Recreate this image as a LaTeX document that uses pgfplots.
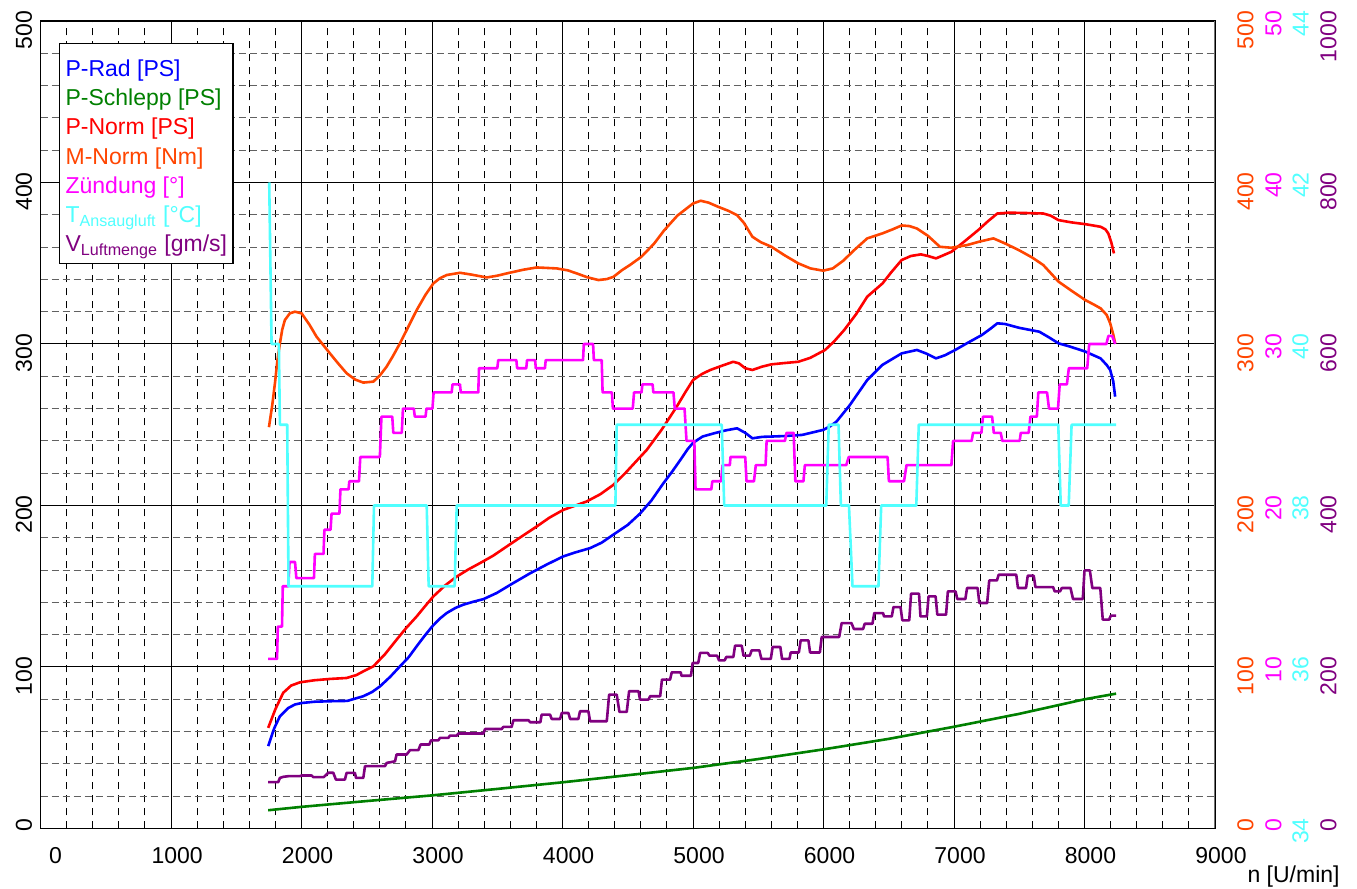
\documentclass[border=0pt]{standalone}
\usepackage{fontspec}
\setmainfont{Liberation Sans}
\usepackage{pgfplots}
\pgfplotsset{compat=1.18}
\usepackage{pgfplotstable}

\definecolor{cprad}{RGB}{0,0,255}
\definecolor{cschlepp}{RGB}{0,128,0}
\definecolor{cpnorm}{RGB}{255,0,0}
\definecolor{cmnorm}{RGB}{255,69,0}
\definecolor{czund}{RGB}{255,0,255}
\definecolor{ctemp}{RGB}{80,255,255}
\definecolor{cluft}{RGB}{128,0,128}

\newcommand{\lblfont}{\fontsize{11.5}{13}\selectfont}

% P-Rad [PS]
\pgfplotstableread{
n v
1744 51
1790 62
1834 69.5
1898 74.6
1950 76.8
2000 77.7
2100 78.5
2217 78.8
2350 79
2473 81.9
2540 84.5
2601 88
2680 94
2754 100.4
2820 106
2882 112.8
2940 119
3000 125
3060 130
3112 133.4
3180 136.6
3240 138.6
3320 140.5
3393 142
3495 145.8
3623 152
3751 158
3880 163.5
4006 168.5
4100 171
4211 173.6
4300 177
4390 182
4500 188
4594 195
4680 203
4773 213.8
4840 221
4901 228
4960 235
5000 238.8
5073 242.7
5161 244.7
5250 246.5
5337 247.8
5400 245
5455 241.6
5530 242.5
5601 242.7
5700 243
5836 243.7
5997 246.8
6050 249
6100 252
6200 262
6335 277.7
6450 287
6599 294.2
6716 296.3
6790 294
6862 291.1
6930 293
7009 296.3
7100 300.5
7214 305.6
7280 309.5
7332 312.8
7390 312.4
7500 310
7654 307.6
7730 304
7801 300.4
7889 298.4
8006 295.3
8123 291.1
8170 287
8197 283.9
8220 277
8235 267.4
}\tabPRad

% P-Schlepp [PS]
\pgfplotstableread{
n v
1744 11.3
2000 13.4
2500 17
3000 20.5
3500 24.5
4000 28.6
4500 33
5000 37.5
5500 43
6000 49
6500 55.5
7000 63
7500 71
8000 80
8242 83.5
}\tabSchlepp

% P-Norm [PS]
\pgfplotstableread{
n v
1744 62.3
1800 74
1859 84
1920 88.5
1987 90.5
2100 91.8
2217 92.6
2345 93.2
2420 95
2473 97.3
2550 100.4
2640 108
2728 116.9
2800 124
2882 131.3
2950 138
3010 143.7
3100 150.5
3189 156
3280 160.5
3367 164.3
3470 169
3572 174.6
3690 181
3802 187
3900 192.5
4006 197.3
4100 200
4185 202.5
4290 207
4390 212.8
4480 220
4560 227
4645 234.4
4760 247
4875 261.2
4940 270
5000 277.7
5070 281.5
5132 283.9
5220 286.5
5308 289
5352 288
5400 285
5455 283.9
5530 286
5601 287.4
5700 288.2
5807 289
5900 291.5
6012 296.3
6080 301.5
6159 308.7
6250 318.5
6335 329.3
6452 337.5
6520 344.5
6599 352
6670 354.5
6746 355.5
6800 354.5
6862 353
6920 355
6980 357.1
7080 363.5
7185 370.5
7260 376
7332 380.8
7420 381.3
7508 381.2
7684 380.8
7740 379.5
7801 376.7
7900 375.3
8006 374.2
8123 372.6
8160 371
8182 368.5
8205 363
8226 356.1
}\tabPNorm

% M-Norm [Nm]
\pgfplotstableread{
n v
1750 248.5
1775 262
1796 275.7
1815 290
1834 300.4
1852 309
1872 314.8
1910 319
1949 320
2000 319
2060 312
2115 304.5
2217 294.2
2280 288
2345 281.9
2410 278
2473 276.1
2550 276.7
2600 280.5
2652 286
2700 292.5
2754 300.4
2820 311
2882 321
2950 330.5
3010 337.5
3060 340.7
3112 342.7
3214 344.1
3300 343
3419 341.2
3500 342.3
3572 343.7
3700 346
3802 347.4
3955 346.8
4040 345.6
4109 343.7
4190 341.3
4275 339.6
4340 340.2
4390 341.6
4457 345.8
4518 349
4604 354
4700 362
4780 370.5
4880 379.5
5000 387
5059 388.7
5120 387.5
5191 385
5270 382.5
5337 379.8
5390 375
5455 366.4
5520 363
5601 360.2
5700 355
5807 349.9
5900 346.8
5997 345.4
6071 346.8
6150 351.5
6240 358.5
6335 365.4
6452 368.5
6530 371
6599 373.4
6660 373
6716 371.5
6800 367
6892 360.2
6980 359.6
7097 361.2
7200 363.5
7302 365.4
7390 362.3
7500 358
7600 353.5
7684 348.9
7740 344
7801 338.6
7900 333
8006 327.2
8070 324.5
8123 322.1
8170 318
8197 312.8
8220 306
8235 300.4
}\tabMNorm

% Zuendung [deg]
\pgfplotstableread{
n v
1744 10.5
1812 10.5
1818 12.5
1850 12.5
1856 15
1898 15
1908 16.5
1950 16.5
1960 15.5
2095 15.5
2102 17
2168 17
2175 18.5
2222 18.5
2230 19.5
2290 19.5
2298 21
2360 21
2366 21.5
2440 21.5
2450 23
2600 23
2612 25.5
2695 25.5
2703 24.5
2768 24.5
2777 26
2860 26
2868 25.5
2950 25.5
2957 26
3003 26
3012 27
3150 27
3157 27.5
3214 27.5
3220 27
3354 27
3360 28.5
3500 28.5
3507 29
3646 29
3652 28.5
3722 28.5
3728 29
3790 29
3795 28.5
3865 28.5
3871 29
4157 29
4163 30
4234 30
4240 29
4300 29
4307 27
4378 27
4386 26
4538 26
4548 27
4605 27
4612 27.5
4690 27.5
4696 27
4850 27
4860 26
4935 26
4950 24
5010 24
5019 21
5140 21
5148 21.5
5215 21.5
5226 22.5
5282 22.5
5287 23
5400 23
5410 21.5
5467 21.5
5481 22.5
5556 22.5
5564 24
5704 24
5717 24.5
5771 24.5
5784 21.5
5846 21.5
5857 22.5
6174 22.5
6193 23
6491 23
6501 21.5
6617 21.5
6636 22.5
6980 22.5
6993 24
7135 24
7146 24.5
7210 24.5
7222 25.5
7292 25.5
7305 24.5
7358 24.5
7370 24
7503 24
7512 24.5
7572 24.5
7586 25.5
7635 25.5
7646 27
7713 27
7728 26
7797 26
7810 27.5
7865 27.5
7880 28.5
8021 28.5
8036 30
8168 30
8183 30.5
8212 30.5
8235 30
}\tabZund

% T Ansaugluft [degC]
\pgfplotstableread{
n v
1752 42
1770 40
1826 40
1834 39
1890 39
1900 37
2542 37
2555 38
2959 38
2974 37
3173 37
3189 38
4405 38
4415 39
5220 39
5239 38
6021 38
6040 39
6115 39
6133 38
6195 38
6222 37
6421 37
6442 38
6711 38
6730 39
7799 39
7818 38
7879 38
7901 39
8242 39
}\tabTemp

% V Luftmenge [gm/s]
\pgfplotstableread{
n v
1744 57.4
1821 57.4
1834 62.6
1860 64
1900 64.8
1987 64.8
2000 65.6
2077 65.6
2090 63.6
2170 63.6
2185 66
2204 69
2243 69
2263 60.6
2332 60.6
2345 68.8
2409 68.8
2417 62.6
2473 62.6
2486 77.2
2639 77.2
2652 81.2
2716 83.2
2728 91.6
2805 91.6
2831 97
2895 97
2912 104
2979 104
2992 109.2
3048 109.2
3061 112.2
3125 112.2
3137 115
3189 115
3201 117.6
3393 117.6
3406 123.2
3534 123.2
3546 125.8
3610 125.8
3623 134
3740 134
3751 131.6
3830 131.6
3840 141
3904 141
3917 135.6
3981 135.6
3994 143
4045 143
4058 135.6
4121 135.6
4134 145.2
4198 145.2
4211 132.8
4339 132.8
4357 165.8
4415 165.8
4436 144.4
4492 144.4
4510 170
4582 170
4594 159.6
4658 159.6
4671 163.8
4748 163.8
4762 184.4
4824 184.4
4837 193.4
4906 193.4
4911 189.2
4984 189.2
4997 205
5040 205
5054 217.4
5113 217.4
5126 214
5185 214
5199 208.2
5242 208.2
5255 212.4
5309 212.4
5322 226.4
5373 226.4
5387 214
5435 214
5449 220.6
5508 220.6
5524 210
5596 210
5610 224.8
5669 224.8
5682 210
5739 210
5749 218
5811 218
5825 233
5884 233
5897 218
5972 218
5986 237.2
6120 237.2
6139 254.4
6214 254.4
6233 247
6303 247
6316 253.6
6375 253.6
6389 266.8
6456 266.8
6464 262.6
6523 262.6
6536 274.2
6590 274.2
6604 257.8
6657 257.8
6671 290.8
6732 290.8
6743 262.6
6792 262.6
6805 287.4
6859 287.4
6872 264.8
6939 264.8
6953 293.6
7012 293.6
7025 284.2
7087 284.2
7100 297.8
7181 297.8
7194 279.2
7254 279.2
7270 307.2
7329 307.2
7342 314.2
7477 314.2
7490 297.8
7552 297.8
7565 313
7611 313
7624 299
7759 299
7772 293.6
7812 293.6
7826 297.8
7893 297.8
7912 284.2
7987 284.2
8000 319.6
8041 319.6
8060 297.8
8121 297.8
8140 258.6
8188 258.6
8202 263.6
8242 263.6
}\tabLuft

\pgfplotsset{
  base/.style={scale only axis, width=587.2pt, height=403.75pt,
    xmin=0, xmax=9000},
  overlay/.style={base, axis line style={draw=none},
    major tick length=0pt, minor tick length=0pt,
    xtick=\empty, ytick pos=right, yticklabel pos=right},
  rotlab/.style={font=\lblfont, xshift=#1, yshift=5.25pt, rotate=90,
    anchor=south east, inner sep=0pt},
  curve/.style={line width=1.3pt, line join=round, no markers},
}

\begin{document}
\begin{tikzpicture}
% main axis: P-Rad, P-Schlepp, P-Norm
\begin{axis}[base,
  ymin=0, ymax=500,
  xtick={0,1000,...,9000},
  xticklabels={\hspace*{9pt}0,1000,2000,3000,4000,5000,6000,7000,8000,9000},
  ytick={0,100,...,500},
  yticklabels={0,100,200,300,400,500},
  minor x tick num=4, minor y tick num=4,
  major tick length=0pt, minor tick length=0pt,
  grid=both,
  major grid style={black, line width=0.5pt},
  minor x grid style={black, line width=0.5pt, dash pattern=on 3.5pt off 3pt},
  minor y grid style={black!62, line width=0.5pt, dash pattern=on 3.5pt off 2pt},
  axis line style={black, line width=0.6pt},
  xticklabel style={font=\lblfont, anchor=north, inner sep=0pt, yshift=-9.25pt, xshift=3pt},
  yticklabel style={rotlab=-4pt},
  xlabel={n [U/min]},
  xlabel style={at={(axis description cs:1,0)}, anchor=base east,
    xshift=62.5pt, yshift=-27.25pt, inner sep=0pt, font=\lblfont},
]
\addplot[curve, cschlepp] table[x=n, y=v] {\tabSchlepp};
\addplot[curve, cpnorm] table[x=n, y=v] {\tabPNorm};
\addplot[curve, cprad] table[x=n, y=v] {\tabPRad};
\draw[black!55, line width=0.6pt] (rel axis cs:1,0) -- (rel axis cs:1,1);
\end{axis}

% M-Norm [Nm]
\begin{axis}[overlay, ymin=0, ymax=500,
  ytick={0,100,...,500}, yticklabels={0,100,200,300,400,500},
  yticklabel style={rotlab=19.5pt, text=cmnorm}]
\addplot[curve, cmnorm] table[x=n, y=v] {\tabMNorm};
\end{axis}

% Zuendung [deg]
\begin{axis}[overlay, ymin=0, ymax=50,
  ytick={0,10,...,50}, yticklabels={0,10,20,30,40,50},
  yticklabel style={rotlab=33.5pt, text=czund}]
\addplot[curve, czund] table[x=n, y=v] {\tabZund};
\end{axis}

% T Ansaugluft [degC]
\begin{axis}[overlay, ymin=34, ymax=44,
  ytick={34,36,...,44}, yticklabels={34,36,38,40,42,44},
  yticklabel style={rotlab=47pt, text=ctemp}]
\addplot[curve, ctemp] table[x=n, y=v] {\tabTemp};
\end{axis}

% V Luftmenge [gm/s]
\begin{axis}[overlay, ymin=0, ymax=1000,
  ytick={0,200,...,1000}, yticklabels={0,200,400,600,800,1000},
  yticklabel style={rotlab=61pt, text=cluft},
  legend cell align=left,
  legend style={at={(axis description cs:0,1)}, anchor=north west,
    xshift=9.2pt, yshift=-11pt, draw=black, line width=0.6pt, fill=white,
    inner xsep=3pt, inner ysep=2pt, row sep=-3.9pt, font=\lblfont,
    nodes={inner sep=0pt, text height=14.5pt, text depth=4pt}},
]
\addplot[curve, cluft, forget plot] table[x=n, y=v] {\tabLuft};
\addlegendimage{empty legend}\addlegendentry{\textcolor{cprad}{P-Rad [PS]}}
\addlegendimage{empty legend}\addlegendentry{\textcolor{cschlepp}{P-Schlepp [PS]}}
\addlegendimage{empty legend}\addlegendentry{\textcolor{cpnorm}{P-Norm [PS]}}
\addlegendimage{empty legend}\addlegendentry{\textcolor{cmnorm}{M-Norm [Nm]}}
\addlegendimage{empty legend}\addlegendentry{\textcolor{czund}{Zündung [°]}}
\addlegendimage{empty legend}\addlegendentry{\textcolor{ctemp}{T\textsubscript{Ansaugluft} [°C]}}
\addlegendimage{empty legend}\addlegendentry{\textcolor{cluft}{V\textsubscript{Luftmenge} [gm/s]}}
\end{axis}

\pgfresetboundingbox
\path[use as bounding box] (-20.3pt,-30.25pt) rectangle (658.2pt,414.25pt);
\end{tikzpicture}
\end{document}
